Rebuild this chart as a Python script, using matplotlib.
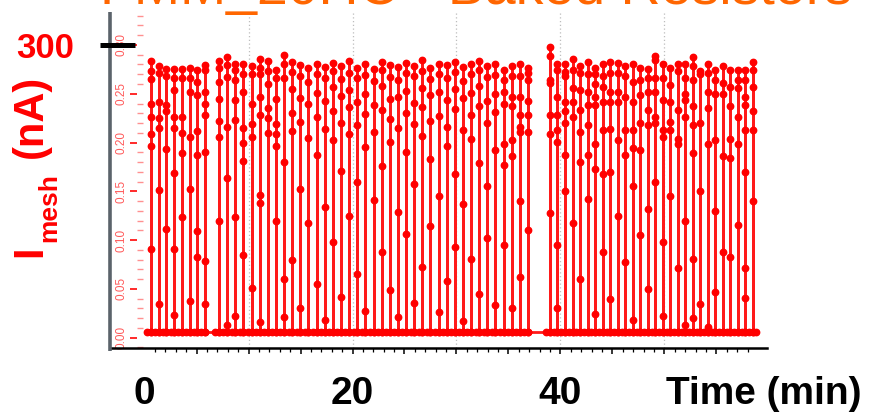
import numpy as np
import matplotlib.pyplot as plt
from matplotlib.transforms import blended_transform_factory

plt.rcParams['font.family'] = ['Liberation Sans', 'DejaVu Sans']

# - - - - - - - - - - - - - - - - - - - - - - - - - - - - - - - - -
# DATA -- mesh current pulses (uA on the inner scale, nA on the label)
# - - - - - - - - - - - - - - - - - - - - - - - - - - - - - - - - -

BASE = 0.006   # resting current between pulses

# pulse times (min), three runs separated by short pauses
run1_t = [0.63, 1.37, 2.11, 2.85, 3.59, 4.33, 5.07, 5.81]
run2_t = [7.16, 7.94, 8.72, 9.51, 10.29, 11.07, 11.85, 12.63, 13.42, 14.20,
          14.98, 15.76, 16.54, 17.33, 18.11, 18.89, 19.67, 20.45, 21.24, 22.02,
          22.80, 23.58, 24.36, 25.15, 25.93, 26.71, 27.49, 28.27, 29.06, 29.84,
          30.62, 31.40, 32.18, 32.97, 33.75, 34.53, 35.31, 36.09, 36.88]
run3_t = [38.99, 39.71, 40.44, 41.16, 41.88, 42.61, 43.33, 44.05, 44.78, 45.50,
          46.22, 46.94, 47.67, 48.39, 49.11, 49.84, 50.56, 51.28, 52.01, 52.73,
          53.45, 54.17, 54.90, 55.62, 56.34, 57.07, 57.79, 58.51]

# samples taken during each pulse, top down
run1_i = [
    [0.284, 0.273, 0.265, 0.239, 0.226, 0.209, 0.196, 0.091],
    [0.278, 0.271, 0.242, 0.225, 0.215, 0.151, 0.034],
    [0.275, 0.268, 0.238, 0.232, 0.193, 0.111],
    [0.275, 0.266, 0.254, 0.226, 0.215, 0.169, 0.091, 0.023],
    [0.275, 0.266, 0.226, 0.210, 0.189, 0.124],
    [0.276, 0.266, 0.252, 0.206, 0.152, 0.038],
    [0.274, 0.262, 0.249, 0.212, 0.187, 0.109, 0.083],
    [0.279, 0.274, 0.252, 0.239, 0.228, 0.190, 0.079, 0.034],
]
run2_i = [
    [0.284, 0.276, 0.262, 0.245, 0.222, 0.206, 0.120],
    [0.288, 0.279, 0.267, 0.216, 0.164, 0.013],
    [0.281, 0.274, 0.264, 0.244, 0.223, 0.124, 0.022],
    [0.280, 0.270, 0.252, 0.215, 0.200, 0.181, 0.085],
    [0.278, 0.270, 0.239, 0.219, 0.206, 0.051],
    [0.286, 0.276, 0.270, 0.247, 0.228, 0.146, 0.138, 0.016],
    [0.284, 0.273, 0.260, 0.235, 0.225, 0.210],
    [0.274, 0.266, 0.245, 0.219, 0.209, 0.196, 0.120],
    [0.290, 0.281, 0.266, 0.180, 0.060, 0.021],
    [0.283, 0.272, 0.255, 0.230, 0.212, 0.080],
    [0.279, 0.268, 0.246, 0.221, 0.152, 0.030],
    [0.276, 0.262, 0.240, 0.205, 0.118],
    [0.281, 0.270, 0.251, 0.226, 0.187, 0.055],
    [0.277, 0.266, 0.243, 0.214, 0.134, 0.018],
    [0.282, 0.273, 0.257, 0.232, 0.203, 0.098],
    [0.278, 0.265, 0.248, 0.220, 0.171, 0.042],
    [0.284, 0.271, 0.254, 0.236, 0.209, 0.125],
    [0.276, 0.266, 0.242, 0.218, 0.160, 0.065],
    [0.280, 0.269, 0.250, 0.229, 0.195, 0.027],
    [0.275, 0.263, 0.238, 0.211, 0.141],
    [0.283, 0.274, 0.258, 0.233, 0.176, 0.088],
    [0.279, 0.267, 0.245, 0.224, 0.201, 0.049],
    [0.277, 0.264, 0.247, 0.215, 0.129, 0.021],
    [0.282, 0.271, 0.253, 0.230, 0.190, 0.106],
    [0.278, 0.268, 0.241, 0.219, 0.158, 0.036],
    [0.285, 0.273, 0.256, 0.236, 0.207, 0.072],
    [0.276, 0.265, 0.249, 0.222, 0.183, 0.114],
    [0.281, 0.270, 0.252, 0.227, 0.145, 0.026],
    [0.279, 0.266, 0.244, 0.216, 0.196, 0.058],
    [0.283, 0.272, 0.255, 0.234, 0.168, 0.093],
    [0.277, 0.263, 0.246, 0.213, 0.137, 0.017],
    [0.280, 0.270, 0.251, 0.228, 0.204, 0.081],
    [0.284, 0.274, 0.258, 0.237, 0.179, 0.045],
    [0.278, 0.267, 0.243, 0.220, 0.155, 0.102],
    [0.281, 0.269, 0.250, 0.231, 0.192, 0.033],
    [0.274, 0.264, 0.252, 0.239, 0.198, 0.177, 0.095],
    [0.278, 0.268, 0.247, 0.237, 0.203, 0.186, 0.030],
    [0.280, 0.268, 0.247, 0.228, 0.216, 0.211, 0.140, 0.062],
    [0.276, 0.271, 0.264, 0.243, 0.228, 0.211, 0.110],
]
run3_i = [
    [0.298, 0.289, 0.264, 0.261, 0.228, 0.209, 0.128],
    [0.281, 0.274, 0.247, 0.228, 0.213, 0.201, 0.095, 0.030],
    [0.281, 0.272, 0.268, 0.242, 0.232, 0.220, 0.187, 0.150],
    [0.286, 0.274, 0.256, 0.242, 0.226, 0.118],
    [0.278, 0.271, 0.254, 0.233, 0.211, 0.180, 0.060],
    [0.283, 0.270, 0.252, 0.238, 0.218, 0.187, 0.142],
    [0.276, 0.270, 0.260, 0.247, 0.238, 0.199, 0.173, 0.024],
    [0.280, 0.268, 0.257, 0.242, 0.213, 0.168, 0.088],
    [0.283, 0.271, 0.252, 0.242, 0.214, 0.170, 0.040],
    [0.282, 0.271, 0.252, 0.242, 0.203, 0.125],
    [0.278, 0.268, 0.247, 0.213, 0.187, 0.078],
    [0.280, 0.262, 0.242, 0.213, 0.194, 0.155, 0.018],
    [0.276, 0.264, 0.249, 0.220, 0.192, 0.105],
    [0.275, 0.266, 0.252, 0.233, 0.218, 0.132, 0.050],
    [0.289, 0.285, 0.266, 0.252, 0.226, 0.220, 0.160],
    [0.281, 0.266, 0.244, 0.213, 0.206, 0.098, 0.022],
    [0.276, 0.259, 0.242, 0.221, 0.213, 0.145],
    [0.280, 0.273, 0.233, 0.204, 0.199, 0.071],
    [0.281, 0.266, 0.250, 0.244, 0.226, 0.120, 0.013],
    [0.288, 0.278, 0.264, 0.237, 0.218, 0.189, 0.081, 0.020],
    [0.273, 0.270, 0.220, 0.150, 0.035],
    [0.280, 0.271, 0.252, 0.235, 0.199, 0.011],
    [0.274, 0.264, 0.250, 0.203, 0.130, 0.047],
    [0.278, 0.261, 0.250, 0.186, 0.088],
    [0.274, 0.257, 0.237, 0.204, 0.184, 0.083],
    [0.274, 0.264, 0.256, 0.226, 0.199, 0.115],
    [0.274, 0.264, 0.247, 0.238, 0.213, 0.170, 0.071, 0.041],
    [0.283, 0.274, 0.257, 0.232, 0.213, 0.140],
]

TITLE = 'FMM_20HC - Baked Resistors'
X_LABELS = [0, 20, 40]
Y_TICKS = [0.00, 0.05, 0.10, 0.15, 0.20, 0.25, 0.30]


# - - - - - - - - - - - - - - - - - - - - - - - - - - - - - - - - -
# TRACE
# - - - - - - - - - - - - - - - - - - - - - - - - - - - - - - - - -


def build_trace(times, pulses):
    """
    One continuous trace: rest -> pulse samples -> rest, pulse after pulse.
    """
    xs, ys = [], []
    for t, vals in zip(times, pulses):
        xs += [t - 0.35, t] + [t] * len(vals) + [t]
        ys += [BASE, BASE] + list(vals) + [BASE]
    xs.append(times[-1] + 0.3)
    ys.append(BASE)
    return xs, ys


# - - - - - - - - - - - - - - - - - - - - - - - - - - - - - - - - -
# PLOT
# - - - - - - - - - - - - - - - - - - - - - - - - - - - - - - - - -


W, H = 877, 412
fig = plt.figure(figsize=(W / 100, H / 100), dpi=100)
ax = fig.add_axes([110 / W, 1 - 348 / H, (767 - 110) / W, (348 - 12) / H])

xs, ys = build_trace(run1_t + run2_t + run3_t, run1_i + run2_i + run3_i)
ax.plot(xs, ys, '-', color='#ff1a1a', lw=2.0, marker='o', ms=4.6,
        mfc='#ff0000', mec='#ff0000', zorder=3)

ax.set_xlim(-3.32, 59.86)
ax.set_ylim(-0.0106, 0.3338)

# dotted 10 min grid
for g in range(10, 51, 10):
    ax.axvline(g, color='#bdbdbd', ls=(0, (1, 2)), lw=0.9, zorder=1)

# bottom axis: black, ticks only, labels drawn large below
for s in ['top', 'right']:
    ax.spines[s].set_visible(False)
ax.spines['bottom'].set_color('black')
ax.spines['bottom'].set_linewidth(1.8)
ax.set_xticks(np.arange(5, 56, 5))
ax.set_xticks([m for m in range(1, 59) if m % 5], minor=True)
ax.set_xticklabels([])
ax.tick_params(axis='x', which='major', direction='out', length=4.5, width=1.1, color='black')
ax.tick_params(axis='x', which='minor', direction='out', length=3, width=0.9, color='black')

# small red current scale sitting just inside the grey frame line
ax.spines['left'].set_position(('axes', 27 / 657))
ax.spines['left'].set_color('none')
ax.set_yticks(Y_TICKS)
ax.set_yticklabels(['%.2f' % v for v in Y_TICKS], rotation=90, va='center',
                   fontsize=8.5, color='#ff5a5a')
ax.set_yticks([v / 100 for v in range(-1, 34) if v % 5], minor=True)
ax.tick_params(axis='y', which='major', direction='out', length=5, width=1.4,
               color='#ff2a2a', pad=2)
ax.tick_params(axis='y', which='minor', direction='in', length=4, width=1.0,
               color='#ff9090')

# grey frame line on the left
ax.plot([0, 0], [-0.008, 1.0], transform=ax.transAxes, clip_on=False,
        color='#5b636b', lw=2.6, solid_capstyle='butt', zorder=4)

# 300 nA marker
mark = blended_transform_factory(fig.transFigure, ax.transData)
ax.plot([100 / W, 135 / W], [0.30, 0.30], transform=mark, clip_on=False,
        color='black', lw=3.6, solid_capstyle='butt', zorder=5)
ax.text(45 / W, 0.30, '300', transform=mark, ha='center', va='center_baseline',
        fontsize=25, fontweight='bold', color='#ff0000')

# y label: I_mesh (nA)
big = dict(fontweight='bold', color='#ff0000', rotation=90, ha='center', va='center')
fig.text(30 / W, 1 - 251 / H, 'I', fontsize=30, **big)
fig.text(49 / W, 1 - 208 / H, 'mesh', fontsize=19, **big)
fig.text(31 / W, 1 - 116 / H, '(nA)', fontsize=30, **big)

# x labels
lab = blended_transform_factory(ax.transData, fig.transFigure)
for v in X_LABELS:
    ax.text(v, 1 - 404 / H, str(v), transform=lab, ha='center', va='baseline',
            fontsize=28, fontweight='bold', color='black')
fig.text(764 / W, 1 - 404 / H, 'Time (min)', ha='center', va='baseline',
         fontsize=28, fontweight='bold', color='black')

# title, mostly above the visible area
fig.text(100 / W, 1 - 4 / H, TITLE, ha='left', va='baseline',
         fontsize=40, color='#ff6600')

fig.savefig('out.png', dpi=100)
